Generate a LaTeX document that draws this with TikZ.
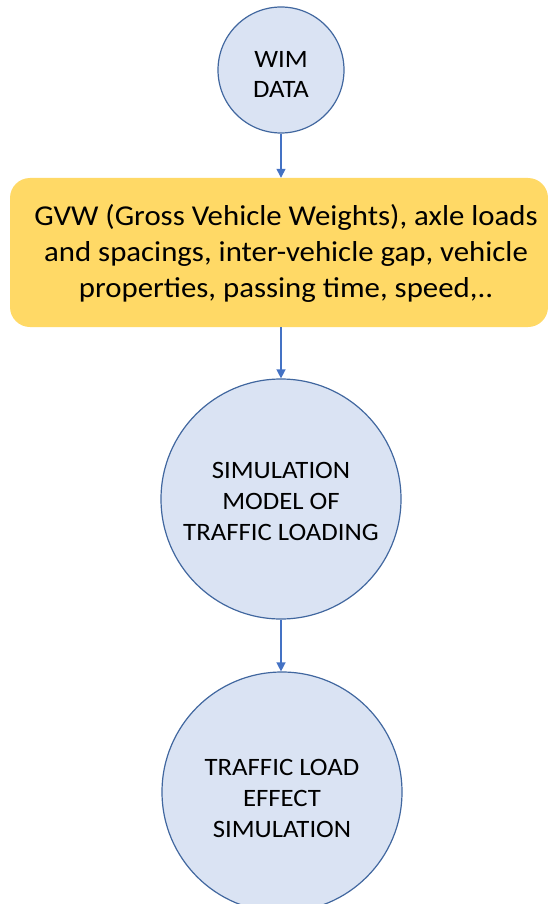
\documentclass[tikz,border=0pt]{standalone}
\usepackage{fontspec}
\setmainfont{Carlito}[FakeStretch=1.07]
\usetikzlibrary{arrows.meta}
\definecolor{circfill}{HTML}{DAE3F3}
\definecolor{circline}{HTML}{41679F}
\definecolor{boxfill}{HTML}{FFD966}
\definecolor{arrowc}{HTML}{4472C4}
\begin{document}
\begin{tikzpicture}[x=1pt,y=-1pt,
  bubble/.style={circle, draw=circline, fill=circfill, line width=1.2pt, inner sep=0pt},
  bubbletext/.style={inner sep=0pt, align=center, font=\fontsize{25}{31}\selectfont},
  infobox/.style={rounded corners=20pt, fill=boxfill, inner sep=0pt},
  infotext/.style={inner sep=0pt, align=center, font=\fontsize{28.8}{36}\selectfont},
  flow/.style={draw=arrowc, line width=1.4pt, -{Triangle[width=9pt,length=9pt]}}]
\useasboundingbox (0,0) rectangle (548,904);
% circles and the data box
\node[bubble, minimum size=126] (wim) at (281,70) {};
\node[infobox, minimum width=538, minimum height=149] (data) at (279,252.5) {};
\node[bubble, minimum size=240] (model) at (281,499) {};
\node[bubble, minimum size=240] (effect) at (282,792) {};
% texts
\node[bubbletext, font=\fontsize{25}{30}\selectfont] (wimtext) at ([yshift=-4pt]wim.center) {WIM\\DATA};
\node[infotext] (datatext) at ([xshift=7pt,yshift=-1pt]data.center)
  {GVW (Gross Vehicle Weights), axle loads\\and spacings, inter-vehicle gap, vehicle\\properties, passing time, speed,..};
\node[bubbletext] (modeltext) at ([yshift=-2pt]model.center) {SIMULATION\\MODEL OF\\TRAFFIC LOADING};
\node[bubbletext] (effecttext) at ([yshift=-6pt]effect.center) {TRAFFIC LOAD\\EFFECT\\SIMULATION};
% connectors
\draw[flow] (wim.south) -- (wim.south |- data.north);
\draw[flow] (data.south -| model.north) -- (model.north);
\draw[flow] (model.south) -- (model.south |- effect.north);
\end{tikzpicture}
\end{document}
